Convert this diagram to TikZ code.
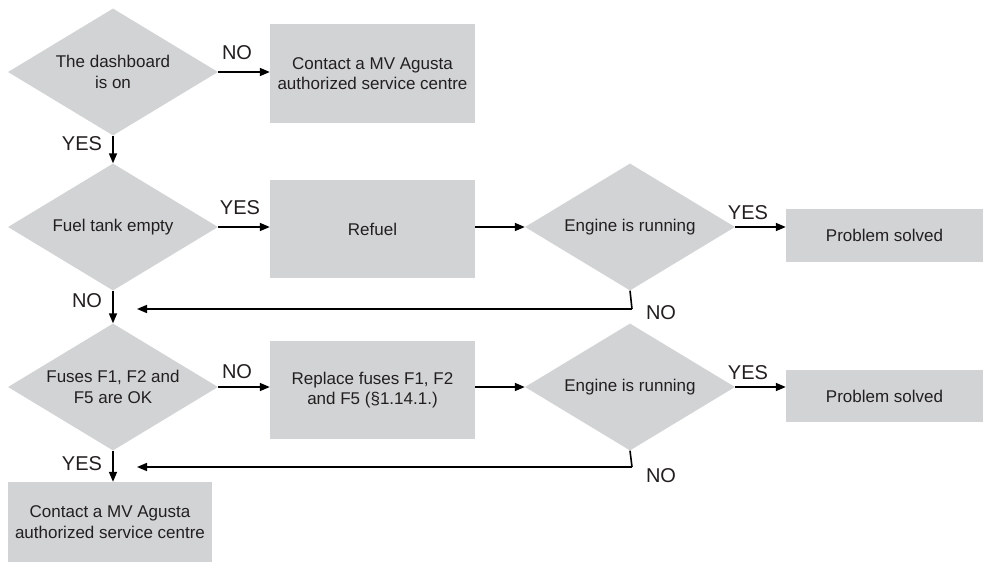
\documentclass[tikz,border=0pt]{standalone}
\usepackage{fontspec}
\setmainfont{Liberation Sans}
\usetikzlibrary{shapes.geometric,arrows.meta}
\definecolor{boxgray}{HTML}{D1D3D4}
\definecolor{txt}{HTML}{231F20}
\begin{document}
\begin{tikzpicture}[x=1pt,y=-1pt,
  dec/.style={diamond,fill=boxgray,draw=none,inner sep=0pt,minimum width=210pt,minimum height=127pt,aspect=1.65,text=txt,align=center,font=\fontsize{17}{20.5}\selectfont},
  pbox/.style={rectangle,fill=boxgray,draw=none,inner sep=0pt,text=txt,align=center,font=\fontsize{17}{20.5}\selectfont},
  lab/.style={text=txt,font=\fontsize{20}{22}\selectfont,inner sep=0pt},
  arr/.style={line width=1.6pt,-{Triangle[length=10pt,width=8pt]}},
  ln/.style={line width=1.6pt}]
\fill[white] (0,0) rectangle (985,563);
% nodes
\node[dec] (d1) at (113,72) {The dashboard\\is on};
\node[pbox,minimum width=205pt,minimum height=99pt] (b1) at (372.5,73.5) {Contact a MV Agusta\\authorized service centre};
\node[dec] (d2) at (113,227) {Fuel tank empty};
\node[pbox,minimum width=205pt,minimum height=98pt] (b2) at (372.5,229) {Refuel};
\node[dec] (e1) at (630,227) {Engine is running};
\node[pbox,minimum width=197pt,minimum height=53pt] (p1) at (884.5,235.5) {Problem solved};
\node[dec] (d3) at (113,387) {Fuses F1, F2 and\\F5 are OK};
\node[pbox,minimum width=205pt,minimum height=98pt] (b3) at (372.5,390) {Replace fuses F1, F2\\and F5 (§1.14.1.)};
\node[dec] (e2) at (630,387) {Engine is running};
\node[pbox,minimum width=197pt,minimum height=52pt] (p2) at (884.5,396) {Problem solved};
\node[pbox,minimum width=204pt,minimum height=80pt] (b4) at (110,522) {Contact a MV Agusta\\authorized service centre};
% coordinates for feedback lines
\coordinate (c1) at (632,309);
\coordinate (t1) at (137,309);
\coordinate (c2) at (632,467);
\coordinate (t2) at (137,467);
% connectors
\draw[arr] (d1.east) -- (b1.west |- d1.east);
\draw[arr] (d1.south) -- (d2.north);
\draw[arr] (d2.east) -- (b2.west |- d2.east);
\draw[arr] (b2.east |- e1.west) -- (e1.west);
\draw[arr] (e1.east) -- (p1.west |- e1.east);
\draw[arr] (d2.south) -- (d3.north);
\draw[ln] (e1.south) -- (c1);
\draw[arr] (c1) -- (t1);
\draw[arr] (d3.east) -- (b3.west |- d3.east);
\draw[arr] (b3.east |- e2.west) -- (e2.west);
\draw[arr] (e2.east) -- (p2.west |- e2.east);
\draw[ln] (e2.south) -- (c2);
\draw[arr] (c2) -- (t2);
\draw[arr] (d3.south) -- (b4.north -| d3.south);
% labels
\node[lab] (l1) at (237,53) {NO};
\node[lab] (l2) at (82,144) {YES};
\node[lab] (l3) at (240,208) {YES};
\node[lab] (l4) at (748,213) {YES};
\node[lab] (l5) at (87,301) {NO};
\node[lab] (l6) at (661,313) {NO};
\node[lab] (l7) at (237,372) {NO};
\node[lab] (l8) at (748,373) {YES};
\node[lab] (l9) at (82,464) {YES};
\node[lab] (l10) at (661,476) {NO};
\end{tikzpicture}
\end{document}
